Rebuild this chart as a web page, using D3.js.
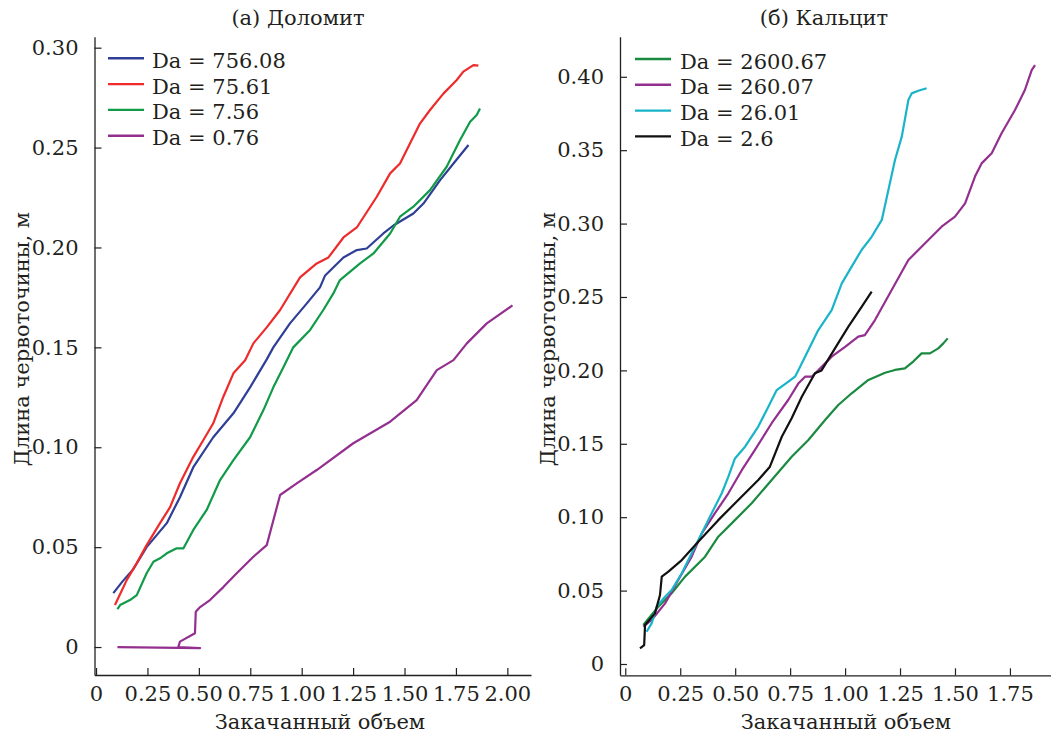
<!DOCTYPE html>
<meta charset="utf-8">
<html>
<script src="https://d3js.org/d3.v7.min.js"></script>
<style>
  body { margin: 0; background: #fff; }
</style>
<body>
<div id="chart"></div>
<script>

// ---- data: [injected volume, wormhole length, m] ----

// (a) dolomite
var dolLabels = ["Da = 756.08", "Da = 75.61", "Da = 7.56", "Da = 0.76"];
var dolColors = ["#2e3f95", "#ee2b2b", "#119a48", "#93308f"];

var dol756 = [[0.084,0.027],[0.13,0.033],[0.181,0.039],[0.246,0.050],[0.344,0.062],[0.408,0.075],[0.473,0.090],
  [0.570,0.105],[0.668,0.117],[0.749,0.130],[0.830,0.144],[0.862,0.150],[0.943,0.162],[1.025,0.172],[1.089,0.180],
  [1.114,0.186],[1.203,0.195],[1.268,0.1987],[1.316,0.1995],[1.397,0.207],[1.446,0.211],[1.543,0.217],[1.592,0.222],
  [1.673,0.2337],[1.738,0.242],[1.811,0.2513]];
var dol75 = [[0.092,0.021],[0.149,0.0335],[0.198,0.042],[0.246,0.051],[0.311,0.062],[0.36,0.070],[0.408,0.082],
  [0.473,0.0952],[0.522,0.1036],[0.570,0.112],[0.619,0.1253],[0.668,0.137],[0.725,0.1436],[0.765,0.152],[0.830,0.160],
  [0.895,0.1687],[0.992,0.185],[1.073,0.192],[1.13,0.195],[1.203,0.205],[1.268,0.210],[1.365,0.2254],[1.43,0.2371],
  [1.478,0.242],[1.575,0.262],[1.624,0.2688],[1.689,0.277],[1.754,0.2838],[1.786,0.288],[1.835,0.2913],[1.859,0.291]];
var dol7 = [[0.104,0.019],[0.117,0.021],[0.165,0.0235],[0.198,0.026],[0.246,0.0369],[0.279,0.0427],[0.311,0.0444],
  [0.344,0.0469],[0.392,0.0494],[0.425,0.0494],[0.473,0.0586],[0.538,0.0686],[0.603,0.0836],[0.668,0.0936],[0.749,0.105],
  [0.814,0.1186],[0.862,0.130],[0.911,0.140],[0.959,0.150],[1.041,0.1587],[1.105,0.1687],[1.154,0.177],[1.186,0.1837],
  [1.284,0.192],[1.349,0.197],[1.43,0.207],[1.478,0.2154],[1.543,0.2204],[1.624,0.2287],[1.705,0.2404],[1.770,0.2538],
  [1.819,0.2629],[1.851,0.2663],[1.867,0.2696]];
var dol076 = [[0.104,0],[0.506,-0.0005],[0.40,0],[0.408,0.0027],[0.481,0.0069],[0.485,0.0177],[0.506,0.020],
  [0.554,0.0235],[0.619,0.030],[0.684,0.0369],[0.765,0.0452],[0.830,0.051],[0.895,0.0761],[0.976,0.0819],[1.073,0.0886],
  [1.251,0.102],[1.43,0.1128],[1.559,0.1236],[1.657,0.1386],[1.738,0.1436],[1.803,0.152],[1.9,0.162],[2.025,0.171]];

// (б) calcite
var calLabels = ["Da = 2600.67", "Da = 260.07", "Da = 26.01", "Da = 2.6"];
var calColors = ["#1a8a40", "#93308f", "#19b4c8", "#111111"];

var cal2600 = [[0.082,0.0266],[0.150,0.039],[0.211,0.0482],[0.272,0.0595],[0.363,0.0731],[0.423,0.0867],[0.484,0.0958],
  [0.575,0.1095],[0.666,0.1253],[0.757,0.1412],[0.833,0.1526],[0.909,0.1662],[0.969,0.1764],[1.03,0.1844],[1.106,0.1935],
  [1.182,0.1984],[1.227,0.2003],[1.272,0.2014],[1.31,0.206],[1.348,0.2116],[1.386,0.2116],[1.424,0.215],[1.447,0.2184],
  [1.467,0.2218]];
var cal260 = [[0.082,0.0254],[0.12,0.030],[0.181,0.0413],[0.241,0.0572],[0.302,0.0731],[0.348,0.089],[0.408,0.1027],
  [0.469,0.1163],[0.530,0.132],[0.590,0.1458],[0.666,0.164],[0.742,0.180],[0.787,0.191],[0.818,0.1957],[0.848,0.1957],
  [0.878,0.200],[0.939,0.2093],[1.0,0.216],[1.06,0.223],[1.09,0.224],[1.136,0.2343],[1.212,0.2548],[1.288,0.2752],
  [1.364,0.2866],[1.439,0.2979],[1.5,0.3047],[1.546,0.3138],[1.591,0.332],[1.621,0.341],[1.667,0.3479],[1.712,0.3615],
  [1.773,0.3774],[1.818,0.391],[1.849,0.4046],[1.864,0.408]];
var cal26 = [[0.097,0.022],[0.12,0.0277],[0.143,0.039],[0.181,0.0458],[0.211,0.0504],[0.257,0.0618],[0.302,0.0754],
  [0.348,0.089],[0.393,0.1027],[0.439,0.1163],[0.469,0.1276],[0.499,0.140],[0.545,0.148],[0.605,0.1617],[0.651,0.1753],
  [0.689,0.1866],[0.742,0.1923],[0.772,0.1957],[0.787,0.200],[0.833,0.2139],[0.878,0.2275],[0.939,0.241],[0.985,0.2593],
  [1.03,0.2707],[1.075,0.282],[1.121,0.291],[1.167,0.3025],[1.197,0.3229],[1.227,0.3433],[1.258,0.3592],[1.288,0.3842],
  [1.303,0.3887],[1.333,0.3905],[1.371,0.3922]];
var cal2_6 = [[0.067,0.0107],[0.086,0.0129],[0.09,0.0266],[0.135,0.0345],[0.158,0.047],[0.166,0.0595],[0.196,0.0629],
  [0.257,0.0708],[0.332,0.0833],[0.423,0.098],[0.514,0.1117],[0.605,0.1253],[0.658,0.1344],[0.712,0.1548],[0.757,0.1674],
  [0.803,0.182],[0.863,0.198],[0.893,0.200],[0.954,0.215],[1.015,0.2298],[1.076,0.2434],[1.121,0.2536]];

var dolXTicks = [0, 0.25, 0.5, 0.75, 1.0, 1.25, 1.5, 1.75, 2.0];
var dolYTicks = [0, 0.05, 0.10, 0.15, 0.20, 0.25, 0.30];
var calXTicks = [0, 0.25, 0.5, 0.75, 1.0, 1.25, 1.5, 1.75];
var calYTicks = [0, 0.05, 0.10, 0.15, 0.20, 0.25, 0.30, 0.35, 0.40];

var width = 1051, height = 736;
var FONT = "'DejaVu Serif', serif";
var FS = 21;

var svg = d3.select("#chart").append("svg")
    .attr("width", width)
    .attr("height", height)
    .attr("font-family", FONT);

var fmt = function(d) { return d === 0 ? "0" : d3.format(".2f")(d); };

function styleAxis(a) {
  a.attr("font-family", FONT).attr("font-size", FS);
  a.select(".domain").attr("stroke", "#231f20").attr("stroke-width", 1.3);
  a.selectAll(".tick line").attr("stroke", "#231f20").attr("stroke-width", 1.2);
  a.selectAll("text").attr("fill", "#231f20");
}

function panel(p) {
  var x = d3.scaleLinear().domain(p.xDomain).range(p.xRange);
  var y = d3.scaleLinear().domain(p.yDomain).range(p.yRange);

  var g = svg.append("g");

  // x axis, ticks pointing inward
  g.append("g")
      .attr("transform", "translate(0," + p.yRange[0] + ")")
      .call(d3.axisBottom(x).tickValues(p.xTicks).tickFormat(fmt).tickSizeInner(-7).tickSizeOuter(0).tickPadding(11))
      .call(styleAxis);

  // y axis
  g.append("g")
      .attr("transform", "translate(" + p.xRange[0] + ",0)")
      .call(d3.axisLeft(y).tickValues(p.yTicks).tickFormat(fmt).tickSizeInner(-7).tickSizeOuter(0).tickPadding(16))
      .call(styleAxis);

  var line = d3.line()
    .x(function(d) { return x(d[0]); })
    .y(function(d) { return y(d[1]); });

  p.series.forEach(function(s, i) {
    g.append("path")
      .datum(s)
      .attr("fill", "none")
      .attr("stroke", p.colors[i])
      .attr("stroke-width", 2.2)
      .attr("stroke-linejoin", "round")
      .attr("d", line);
  });

  // legend
  var legend = g.selectAll(".legend")
      .data(p.labels)
      .enter().append("g")
      .attr("transform", function(d, i) { return "translate(" + p.legendX + "," + (p.legendY + i * 25.8) + ")"; });

  legend.append("line")
      .attr("x1", 0).attr("x2", 36)
      .attr("stroke", function(d, i) { return p.colors[i]; })
      .attr("stroke-width", 2.4);

  legend.append("text")
      .attr("x", p.legendTextDx)
      .attr("y", 9.5)
      .attr("font-size", FS)
      .attr("fill", "#231f20")
      .text(function(d) { return d; });

  // titles
  g.append("text")
      .attr("x", p.titleX)
      .attr("y", 25)
      .attr("text-anchor", "middle")
      .attr("font-size", FS)
      .attr("fill", "#231f20")
      .text(p.title);

  g.append("text")
      .attr("x", p.titleX + 22)
      .attr("y", 729)
      .attr("text-anchor", "middle")
      .attr("font-size", FS)
      .attr("fill", "#231f20")
      .text("Закачанный объем");

  g.append("text")
      .attr("transform", "translate(" + p.yLabelX + ",339) rotate(-90)")
      .attr("text-anchor", "middle")
      .attr("font-size", FS)
      .attr("fill", "#231f20")
      .text("Длина червоточины, м");
}

panel({
  title: "(а) Доломит",
  titleX: 298,
  yLabelX: 29,
  xDomain: [-0.0075, 2.115], xRange: [94.5, 531],
  yDomain: [-0.014, 0.3055], yRange: [675, 36.7],
  xTicks: dolXTicks, yTicks: dolYTicks,
  series: [dol756, dol75, dol7, dol076],
  colors: dolColors, labels: dolLabels,
  legendX: 108, legendY: 58.3, legendTextDx: 44
});

panel({
  title: "(б) Кальцит",
  titleX: 824,
  yLabelX: 555,
  xDomain: [-0.024, 1.94], xRange: [620, 1051.7],
  yDomain: [-0.0077, 0.4273], yRange: [675.3, 36.7],
  xTicks: calXTicks, yTicks: calYTicks,
  series: [cal2600, cal260, cal26, cal2_6],
  colors: calColors, labels: calLabels,
  legendX: 635, legendY: 59, legendTextDx: 45
});

</script>
</body>
</html>
